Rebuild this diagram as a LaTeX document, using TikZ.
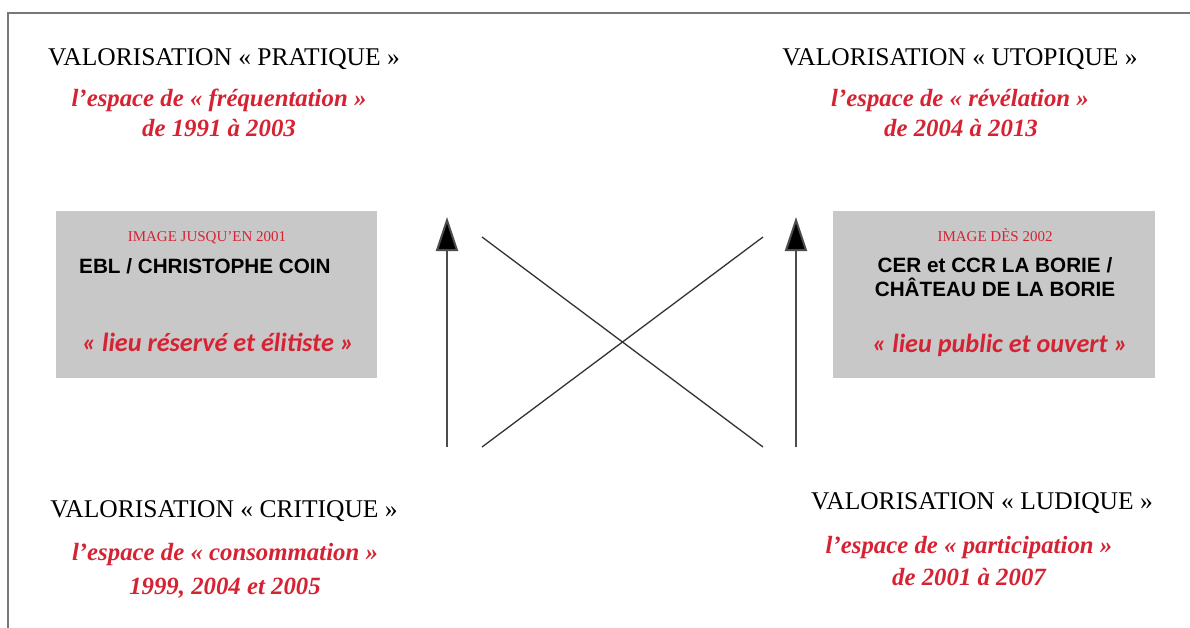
\documentclass[tikz,border=0pt]{standalone}
\usepackage{fontspec}
\setmainfont{Liberation Serif}
\newfontfamily\arialf{Liberation Sans}
\newfontfamily\calibrif{Carlito}
\usetikzlibrary{arrows.meta}
\definecolor{redt}{RGB}{214,35,52}
\definecolor{boxgray}{RGB}{200,200,200}
\definecolor{framegray}{RGB}{120,120,120}
\begin{document}
\begin{tikzpicture}[x=1pt,y=-1pt,
  title/.style={anchor=base, inner sep=0, font=\fontsize{25.5}{28}\selectfont},
  sub/.style={anchor=base, inner sep=0, text=redt, font=\fontsize{24.8}{26}\selectfont\bfseries\itshape},
  boxlabel/.style={anchor=base, inner sep=0, text=redt, font=\fontsize{15}{16}\selectfont},
  boxname/.style={anchor=base, inner sep=0, font=\fontsize{20.7}{22}\selectfont\arialf\bfseries},
  boxquote/.style={anchor=base, inner sep=0, text=redt, font=\fontsize{26.2}{28}\selectfont\calibrif\bfseries\itshape},
  graybox/.style={fill=boxgray, draw=none},
  uparrow/.style={draw=black!70, line width=2pt, -{Triangle[length=34pt,width=22pt,fill=black]}},
  crossline/.style={draw=black!80, line width=1.3pt}]
\useasboundingbox (0,0) rectangle (1190,628);
\fill[white] (0,0) rectangle (1190,628);
% frame
\draw[framegray, line width=1.5pt] (8,628) -- (8,13) -- (1190,13);
% top left
\node[title] (tl) at (224,66) {VALORISATION « PRATIQUE »};
\node[sub] (tl1) at (219,107) {l’espace de « fréquentation »};
\node[sub] (tl2) at (219,137) {de 1991 à 2003};
% top right
\node[title] (tr) at (960,66) {VALORISATION « UTOPIQUE »};
\node[sub] (tr1) at (960,107) {l’espace de « révélation »};
\node[sub] (tr2) at (961,137) {de 2004 à 2013};
% bottom left
\node[title] (bl) at (224,517) {VALORISATION « CRITIQUE »};
\node[sub] (bl1) at (225,560) {l’espace de « consommation »};
\node[sub] (bl2) at (225,594) {1999, 2004 et 2005};
% bottom right
\node[title] (br) at (982,509) {VALORISATION « LUDIQUE »};
\node[sub] (br1) at (969,553) {l’espace de « participation »};
\node[sub] (br2) at (969,585) {de 2001 à 2007};
% boxes
\path[graybox] (56,211) rectangle (377,378);
\node[boxlabel] (lb0) at (207,242) {IMAGE JUSQU’EN 2001};
\node[boxname, anchor=base west] (lb1) at (79,273) {EBL / CHRISTOPHE COIN};
\node[boxquote] (lb2) at (218,351) {« lieu réservé et élitiste »};
\path[graybox] (833,211) rectangle (1155,378);
\node[boxlabel] (rb0) at (995,242) {IMAGE DÈS 2002};
\node[boxname] (rb1) at (995,272) {CER et CCR LA BORIE /};
\node[boxname] (rb2) at (995,296) {CHÂTEAU DE LA BORIE};
\node[boxquote] (rb3) at (1000,352) {« lieu public et ouvert »};
% connectors
\coordinate (a1s) at (447,447); \coordinate (a1e) at (447,217);
\coordinate (a2s) at (796,447); \coordinate (a2e) at (796,217);
\coordinate (c1s) at (482,237); \coordinate (c1e) at (763,447);
\coordinate (c2s) at (482,447); \coordinate (c2e) at (763,237);
\draw[uparrow] (a1s) -- (a1e);
\draw[uparrow] (a2s) -- (a2e);
\draw[crossline] (c1s) -- (c1e);
\draw[crossline] (c2s) -- (c2e);
\end{tikzpicture}
\end{document}
